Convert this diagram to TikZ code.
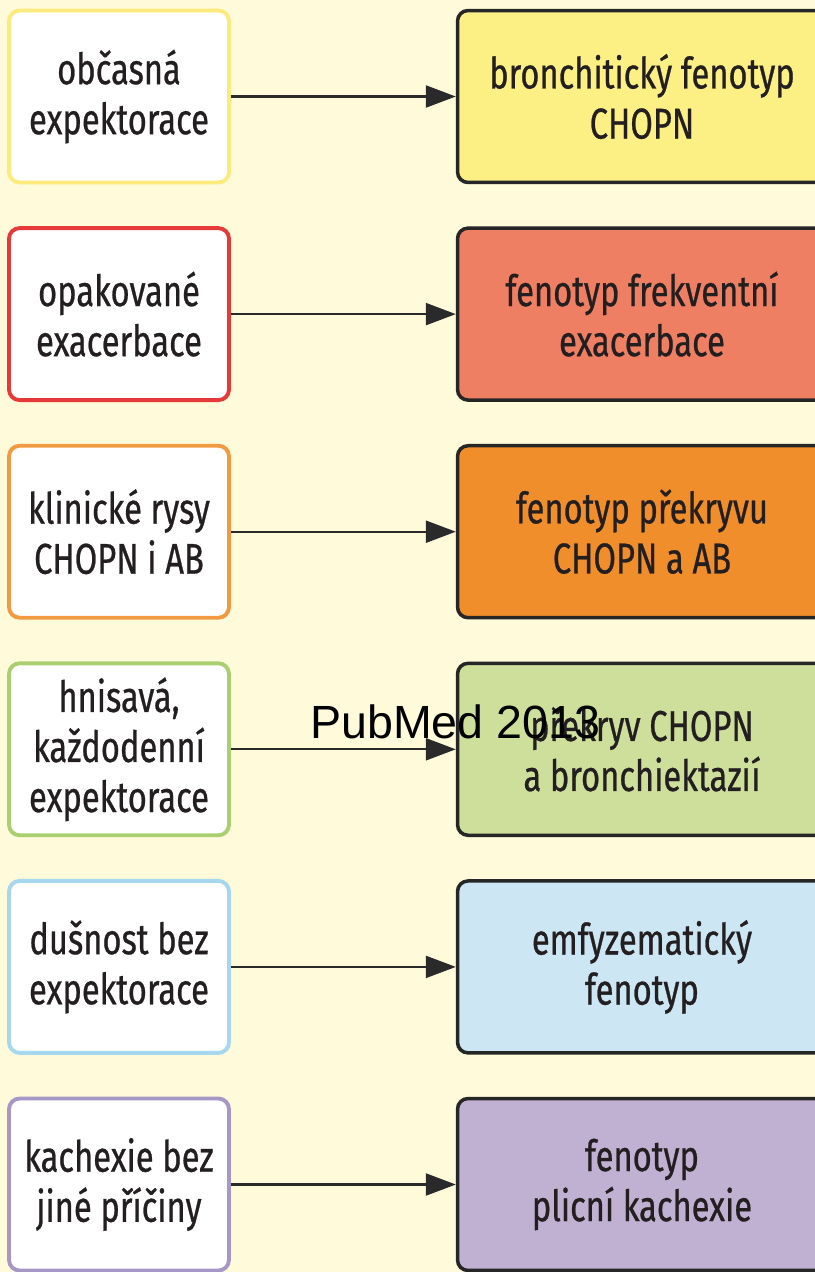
\documentclass[tikz,border=0pt]{standalone}
\usepackage{fontspec}
\setmainfont[FakeStretch=0.76, FakeBold=0.6]{Fira Sans}
\newfontfamily\pubmedfont{Liberation Sans}
\usepackage{tikz}
\usetikzlibrary{arrows.meta,positioning}
\definecolor{colorbg}{HTML}{FEFADA}
\definecolor{colortext}{HTML}{231F20}
\definecolor{colorframe}{HTML}{262626}
\definecolor{colorarrow}{HTML}{2A2A2A}
% left frames
\definecolor{edgeyellow}{HTML}{FCEB7C}
\definecolor{edgered}{HTML}{E5393A}
\definecolor{edgeorange}{HTML}{F29A42}
\definecolor{edgegreen}{HTML}{A9CF70}
\definecolor{edgeblue}{HTML}{A6D7EF}
\definecolor{edgepurple}{HTML}{A797C6}
% right fills
\definecolor{fillyellow}{HTML}{FCEF84}
\definecolor{fillred}{HTML}{EE7F63}
\definecolor{fillorange}{HTML}{F08E2B}
\definecolor{fillgreen}{HTML}{CDDF9A}
\definecolor{fillblue}{HTML}{CCE6F4}
\definecolor{fillpurple}{HTML}{C0B0D1}
\tikzstyle{sign}=[rectangle, rounded corners=6pt, line width=2.2pt, fill=white, minimum width=4.4cm, minimum height=3.44cm, inner sep=0pt, align=center, text=colortext, font=\fontsize{24.5}{28.5}\selectfont]
\tikzstyle{phenotype}=[rectangle, rounded corners=6pt, draw=colorframe, line width=2pt, minimum width=7.38cm, minimum height=3.44cm, inner sep=0pt, align=center, text=colortext, font=\fontsize{24.5}{28.5}\selectfont]
\tikzstyle{link}=[draw=colorarrow, line width=1.3pt, -{Triangle[length=0.6cm, width=0.44cm]}]

\begin{document}
\begin{tikzpicture}[x=0.02cm, y=-0.02cm]
	\useasboundingbox (0,0) rectangle (815,1272);
	\clip (0,0) rectangle (815,1272);
	\fill[colorbg] (0,0) rectangle (815,1272);
	
	\node[sign, draw=edgeyellow] at (119, 96.5) (s1) {občasná\\expektorace};
	\node[sign, draw=edgered] at (119, 314.1) (s2) {opakované\\exacerbace};
	\node[sign, draw=edgeorange] at (119, 531.7) (s3) {klinické rysy\\CHOPN i AB};
	\node[sign, draw=edgegreen] at (119, 749.3) (s4) {hnisavá,\\každodenní\\expektorace};
	\node[sign, draw=edgeblue] at (119, 966.9) (s5) {dušnost bez\\expektorace};
	\node[sign, draw=edgepurple] at (119, 1184.5) (s6) {kachexie bez\\jiné příčiny};
	
	\node[phenotype, fill=fillyellow] at (642, 96.5) (f1) {bronchitický fenotyp\\CHOPN};
	\node[phenotype, fill=fillred] at (642, 314.1) (f2) {fenotyp frekventní\\exacerbace};
	\node[phenotype, fill=fillorange] at (642, 531.7) (f3) {fenotyp překryvu\\CHOPN a AB};
	\node[phenotype, fill=fillgreen] at (642, 749.3) (f4) {překryv CHOPN\\a bronchiektazií};
	\node[phenotype, fill=fillblue] at (642, 966.9) (f5) {emfyzematický\\fenotyp};
	\node[phenotype, fill=fillpurple] at (642, 1184.5) (f6) {fenotyp\\plicní kachexie};
	
	\path (s1) edge[link] (f1);
	\path (s2) edge[link] (f2);
	\path (s3) edge[link] (f3);
	\path (s4) edge[link] (f4);
	\path (s5) edge[link] (f5);
	\path (s6) edge[link] (f6);
	
	\node[anchor=base west, inner sep=0pt, font=\pubmedfont\fontsize{26.5}{31}\selectfont] at (310, 738) (stamp) {PubMed 2013};
	
\end{tikzpicture}
\end{document}
